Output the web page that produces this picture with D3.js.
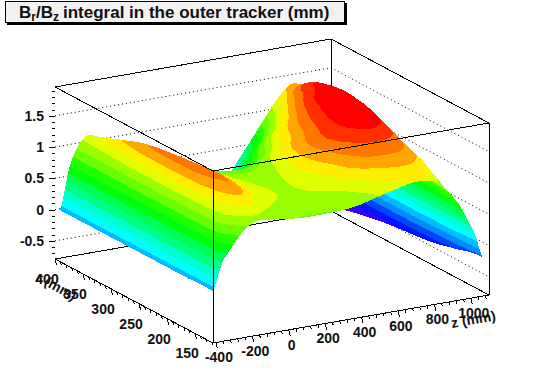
<!DOCTYPE html>
<html>
<head>
<meta charset="utf-8">
<script src="https://cdn.jsdelivr.net/npm/d3@7"></script>
<style>
  html, body { margin: 0; padding: 0; background: #fff; }
  text { font-family: "Liberation Sans", Arial, sans-serif; font-weight: bold; fill: #111; }
</style>
</head>
<body>
<div id="chart"></div>
<script>
// Values
var zValues = [-410, -360, -310, -250, -180, -100, 0, 100, 200, 300, 400, 500, 600, 700, 800, 880, 940, 990, 1030, 1070];
var rValues = [120, 140, 165, 210, 255, 300, 345, 393];

// one row per z value, one column per r value
var surfaceValues = [
  [0.03, 0.03, 0.02, 0.02, 0.02, 0.02, 0.02, 0.02],
  [0.45, 0.58, 0.62, 0.64, 0.65, 0.66, 0.66, 0.66],
  [0.66, 0.93, 1.00, 1.05, 1.06, 1.05, 1.02, 1.00],
  [0.88, 1.18, 1.35, 1.50, 1.50, 1.44, 1.30, 1.15],
  [1.02, 1.30, 1.46, 1.47, 1.38, 1.30, 1.16, 1.00],
  [1.01, 1.14, 1.28, 1.32, 1.25, 1.15, 1.00, 0.80],
  [0.97, 1.06, 1.14, 1.16, 1.08, 0.95, 0.80, 0.60],
  [0.95, 1.03, 1.08, 1.07, 0.98, 0.85, 0.62, 0.30],
  [0.95, 1.03, 1.08, 1.06, 0.97, 0.78, 0.45, 0.12],
  [0.96, 1.03, 1.10, 1.15, 1.03, 0.76, 0.38, 0.02],
  [1.00, 1.06, 1.18, 1.40, 1.28, 0.88, 0.38, 0.00],
  [1.08, 1.15, 1.38, 1.60, 1.45, 1.20, 0.72, 0.08],
  [1.15, 1.25, 1.47, 1.72, 1.68, 1.45, 1.00, 0.45],
  [1.21, 1.30, 1.48, 1.80, 1.82, 1.72, 1.36, 0.86],
  [1.17, 1.27, 1.42, 1.69, 1.83, 1.78, 1.67, 1.25],
  [0.97, 1.09, 1.25, 1.40, 1.59, 1.70, 1.59, 1.40],
  [0.74, 0.82, 0.90, 1.05, 1.25, 1.35, 1.30, 1.15],
  [0.45, 0.50, 0.50, 0.55, 0.62, 0.70, 0.75, 0.75],
  [0.20, 0.15, 0.10, 0.05, 0.05, 0.10, 0.20, 0.30],
  [-0.18, -0.20, -0.27, -0.37, -0.42, -0.47, -0.55, -0.65]
];

var contourHues = [263, 252, 235, 224, 207, 196, 179, 168, 151, 140, 123, 112, 95, 84, 67, 56, 39, 28, 11, 0];
var vTickLabels = [-0.5, 0, 0.5, 1, 1.5];
var zTickLabels = [-400, -200, 0, 200, 400, 600, 800, 1000];
var rTickLabels = [150, 200, 250, 300, 350, 400];

var width = 544;
var height = 383;

// Box corners on screen, same layout as the ROOT canvas
var front = [213, 343];
var boxHeight = 172;
var zSpan = [276, -48];
var rSpan = [-158, -84];
var meshSteps = 3; // drawn cells per table cell, keeps contour edges round

var zScale = d3.scaleLinear().domain([-416, 1100]).range([0, 1]);
var rScale = d3.scaleLinear().domain([118, 400]).range([0, 1]);
var vScale = d3.scaleLinear().domain([-0.79, 1.96]).range([0, boxHeight]);

var vMin = -0.665;
var vMax = 1.835;
var contourStep = (vMax - vMin) / contourHues.length;
var lastBand = contourHues.length - 1;
var colorScale = d3.scaleQuantize().domain([vMin, vMax])
  .range(contourHues.map(function(h) { return d3.hsl(h, 1, 0.5).formatHex(); }));

function project(z, r, v) {
  var a = zScale(z), b = rScale(r);
  return [front[0] + a * zSpan[0] + b * rSpan[0],
          front[1] + a * zSpan[1] + b * rSpan[1] - vScale(v)];
}

var svg = d3.select("#chart").append("svg")
  .attr("width", width)
  .attr("height", height)
  .style("display", "block");

function drawLine(p, q) {
  return svg.append("line")
    .attr("x1", p[0]).attr("y1", p[1])
    .attr("x2", q[0]).attr("y2", q[1])
    .attr("stroke", "#000")
    .attr("stroke-width", 1)
    .attr("shape-rendering", "crispEdges");
}

var zLo = zScale.domain()[0], zHi = zScale.domain()[1];
var rLo = rScale.domain()[0], rHi = rScale.domain()[1];
var vLo = vScale.domain()[0], vHi = vScale.domain()[1];

/* Back walls */
vTickLabels.forEach(function(v) {
  svg.append("polyline")
    .attr("points", [project(zLo, rHi, v), project(zHi, rHi, v), project(zHi, rLo, v)].join(" "))
    .attr("fill", "none")
    .attr("stroke", "#000")
    .attr("stroke-dasharray", "1,3");
});
drawLine(project(zLo, rHi, vLo), project(zHi, rHi, vLo));
drawLine(project(zHi, rHi, vLo), project(zHi, rLo, vLo));
drawLine(project(zHi, rHi, vLo), project(zHi, rHi, vHi));
drawLine(project(zLo, rHi, vHi), project(zHi, rHi, vHi));
drawLine(project(zHi, rHi, vHi), project(zHi, rLo, vHi));

/* Rounder mesh for drawing, the table itself stays as read */
function catmull(list, t) {
  var i = Math.min(Math.floor(t), list.length - 2);
  var s = t - i;
  var p0 = list[Math.max(i - 1, 0)], p1 = list[i], p2 = list[i + 1], p3 = list[Math.min(i + 2, list.length - 1)];
  return 0.5 * (2 * p1 + (p2 - p0) * s + (2 * p0 - 5 * p1 + 4 * p2 - p3) * s * s + (3 * p1 - p0 - 3 * p2 + p3) * s * s * s);
}

function fineList(list) {
  var out = [];
  for (var t = 0; t <= (list.length - 1) * meshSteps; t++) {
    out.push(t / meshSteps);
  }
  return out;
}

var zIndex = fineList(zValues);
var rIndex = fineList(rValues);
var zInterp = d3.scaleLinear().domain(d3.range(zValues.length)).range(zValues);
var rInterp = d3.scaleLinear().domain(d3.range(rValues.length)).range(rValues);

var columnsAlongZ = rValues.map(function(r, j) {
  var column = surfaceValues.map(function(row) { return row[j]; });
  return zIndex.map(function(t) { return catmull(column, t); });
});
var mesh = zIndex.map(function(t, i) {
  var across = columnsAlongZ.map(function(column) { return column[i]; });
  return rIndex.map(function(u) { return catmull(across, u); });
});

/* Surface, far cells first, each triangle cut into contour bands */
function clipBand(poly, level, keepAbove) {
  var out = [];
  poly.forEach(function(p, i) {
    var q = poly[(i + 1) % poly.length];
    var pIn = keepAbove ? p.v >= level : p.v <= level;
    var qIn = keepAbove ? q.v >= level : q.v <= level;
    if (pIn) out.push(p);
    if (pIn !== qIn) {
      var t = (level - p.v) / (q.v - p.v);
      out.push({ z: p.z + t * (q.z - p.z), r: p.r + t * (q.r - p.r), v: level });
    }
  });
  return out;
}

function bandOf(v) {
  return Math.max(0, Math.min(lastBand, Math.floor((v - vMin) / contourStep)));
}

var surface = svg.append("g").attr("shape-rendering", "crispEdges");

function drawTriangle(tri) {
  var vs = tri.map(function(p) { return p.v; });
  for (var k = bandOf(d3.min(vs)); k <= bandOf(d3.max(vs)); k++) {
    var lo = k === 0 ? -Infinity : vMin + k * contourStep;
    var hi = k === lastBand ? Infinity : vMin + (k + 1) * contourStep;
    var poly = clipBand(clipBand(tri, lo, true), hi, false);
    if (poly.length < 3) continue;
    surface.append("polygon")
      .attr("points", poly.map(function(p) { return project(p.z, p.r, p.v); }).join(" "))
      .attr("fill", colorScale(vMin + (k + 0.5) * contourStep));
  }
}

function gridPoint(i, j) {
  return { z: zInterp(zIndex[i]), r: rInterp(rIndex[j]), v: mesh[i][j] };
}

for (var i = zIndex.length - 2; i >= 0; i--) {
  for (var j = rIndex.length - 2; j >= 0; j--) {
    var p00 = gridPoint(i, j), p10 = gridPoint(i + 1, j), p01 = gridPoint(i, j + 1), p11 = gridPoint(i + 1, j + 1);
    drawTriangle([p11, p10, p01]);
    drawTriangle([p00, p10, p01]);
  }
}

/* Front edges of the box */
drawLine(project(zLo, rHi, vHi), project(zLo, rLo, vHi));
drawLine(project(zLo, rLo, vHi), project(zHi, rLo, vHi));
drawLine(project(zLo, rLo, vLo), project(zLo, rLo, vHi));
drawLine(project(zHi, rLo, vLo), project(zHi, rLo, vHi));
drawLine(project(zLo, rHi, vLo), project(zLo, rLo, vLo));
drawLine(project(zLo, rLo, vLo), project(zHi, rLo, vLo));

/* Add value axis */
var vAxisScale = d3.scaleLinear().domain([vLo, vHi]).range([project(zLo, rHi, vLo)[1], project(zLo, rHi, vHi)[1]]);
var vAxisX = project(zLo, rHi, vLo)[0];

svg.append("g")
  .attr("transform", "translate(" + vAxisX + ",0)")
  .call(d3.axisLeft(vAxisScale).tickValues(d3.range(-0.7, 1.95, 0.1)).tickSize(3).tickFormat(""))
  .call(function(g) { g.select(".domain").remove(); })
  .attr("shape-rendering", "crispEdges");

svg.append("g")
  .attr("transform", "translate(" + vAxisX + ",0)")
  .call(d3.axisLeft(vAxisScale).tickValues(vTickLabels).tickSize(6).tickPadding(5).tickFormat(function(d) { return d; }))
  .call(function(g) {
    g.select(".domain").remove();
    g.selectAll("text").style("font-family", '"Liberation Sans", Arial, sans-serif').style("font-weight", "bold").style("font-size", "14px");
  })
  .attr("shape-rendering", "crispEdges");

/* Ticks and labels on the two slanted axes */
function slantTicks(values, at, size) {
  values.forEach(function(d) {
    var p = at(d);
    drawLine(p, [p[0] + size * 0.25, p[1] + size]);
  });
}

var zAt = function(z) { return project(z, rLo, vLo); };
var rAt = function(r) { return project(zLo, r, vLo); };

slantTicks(d3.range(-400, 1100, 40), zAt, 3);
slantTicks(d3.range(-400, 1100, 200), zAt, 6);
slantTicks(d3.range(120, 401, 10), rAt, 3);
slantTicks(d3.range(150, 401, 50), rAt, 6);

svg.selectAll(".z-label").data(zTickLabels).enter().append("text")
  .attr("class", "z-label")
  .attr("x", function(d) { return zAt(d)[0] + 3; })
  .attr("y", function(d) { return zAt(d)[1] + 20; })
  .attr("text-anchor", "middle")
  .style("font-size", "14px")
  .text(function(d) { return d; });

svg.selectAll(".r-label").data(rTickLabels).enter().append("text")
  .attr("class", "r-label")
  .attr("x", function(d) { return rAt(d)[0] - 8; })
  .attr("y", function(d) { return rAt(d)[1] + 25; })
  .attr("text-anchor", "middle")
  .style("font-size", "14px")
  .text(function(d) { return d; });

svg.append("text")
  .attr("transform", "translate(452,328) rotate(-10)")
  .style("font-size", "14px")
  .text("z (mm)");

svg.append("text")
  .attr("transform", "translate(35,280) rotate(29)")
  .style("font-size", "14px")
  .text("r (mm)");

/* Title box */
svg.append("rect").attr("x", 7).attr("y", 3).attr("width", 340).attr("height", 22).attr("fill", "#000");
svg.append("rect").attr("x", 5.5).attr("y", 1.5).attr("width", 339).attr("height", 21)
  .attr("fill", "#f2f2f2").attr("stroke", "#000");

var title = svg.append("text").attr("x", 19).attr("y", 18).style("font-size", "17px");
title.append("tspan").text("B");
title.append("tspan").attr("dy", 3).style("font-size", "12px").text("r");
title.append("tspan").attr("dy", -3).text("/B");
title.append("tspan").attr("dy", 3).style("font-size", "12px").text("z");
title.append("tspan").attr("dy", -3).attr("dx", 4).text("integral in the outer tracker (mm)");
</script>
</body>
</html>
